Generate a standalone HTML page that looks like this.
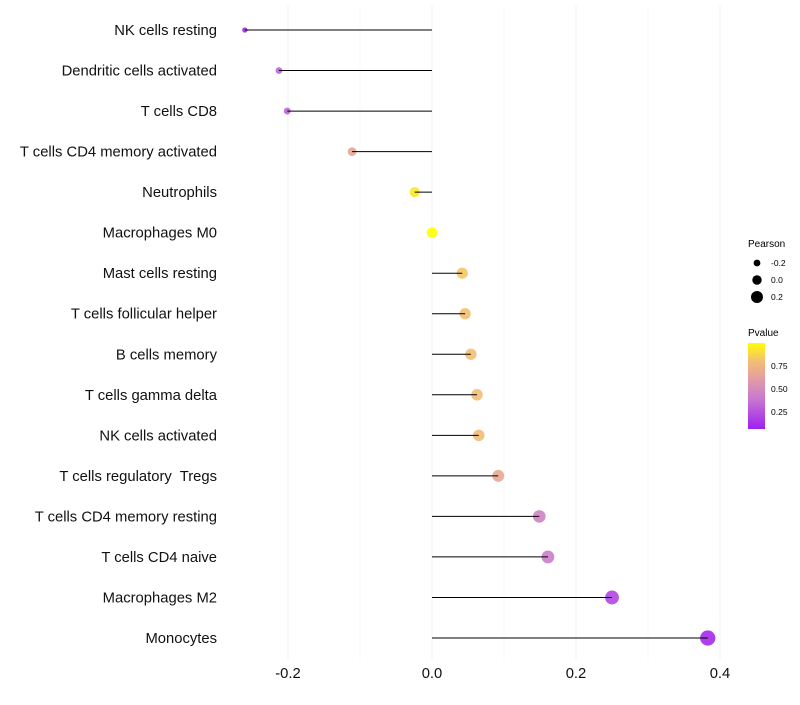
<!DOCTYPE html>
<html><head><meta charset="utf-8"><style>
body{margin:0;background:#fff;font-family:"Liberation Sans",sans-serif}
text{white-space:pre}
</style></head><body>
<svg id="chart" width="800" height="700" xmlns="http://www.w3.org/2000/svg" font-family="Liberation Sans, sans-serif">
<defs><linearGradient id="pg" x1="0" y1="1" x2="0" y2="0">
<stop offset="0" stop-color="#a020f0"/><stop offset="0.35" stop-color="#c878d0"/><stop offset="0.6" stop-color="#e4a0a0"/><stop offset="0.8" stop-color="#f4c070"/><stop offset="1" stop-color="#ffff00"/></linearGradient></defs>
<g id="grid"></g><g id="points"></g><g id="stems"></g><g id="ylabels"></g><g id="xlabels"></g>
<g font-size="10">
<text x="748" y="247" fill="#000">Pearson</text>
<circle cx="757" cy="263" r="3.4" fill="#000"/><text x="771" y="266" font-size="8.5">-0.2</text>
<circle cx="757" cy="280" r="4.7" fill="#000"/><text x="771" y="283" font-size="8.5">0.0</text>
<circle cx="757" cy="297" r="6" fill="#000"/><text x="771" y="300" font-size="8.5">0.2</text>
</g>
<g>
<text x="748" y="336" font-size="10">Pvalue</text>
<rect x="748" y="343" width="17" height="86" fill="url(#pg)"/>
<text x="771" y="369" font-size="8.5">0.75</text>
<text x="771" y="392" font-size="8.5">0.50</text>
<text x="771" y="415" font-size="8.5">0.25</text>
</g>
</svg>
<script>
const categories=["NK cells resting","Dendritic cells activated","T cells CD8","T cells CD4 memory activated","Neutrophils","Macrophages M0","Mast cells resting","T cells follicular helper","B cells memory","T cells gamma delta","NK cells activated","T cells regulatory  Tregs","T cells CD4 memory resting","T cells CD4 naive","Macrophages M2","Monocytes"];
const pearson=[-0.26,-0.2125,-0.201,-0.111,-0.024,0,0.042,0.046,0.054,0.0625,0.065,0.092,0.149,0.161,0.25,0.383];
const pvalue=[0.1,0.3,0.3,0.65,0.92,1.0,0.82,0.8,0.8,0.78,0.78,0.68,0.45,0.42,0.2,0.1];
const xTicks=[-0.2,0.0,0.2,0.4];
const xTickLabels=["-0.2","0.0","0.2","0.4"];
const NS="http://www.w3.org/2000/svg";
function X(v){return 432+v*720;}
function Y(i){return 30+i*(608/15);}
function R(v){return Math.sqrt(Math.max(2,28+80*v));}
const stops=[[0,[160,32,240]],[0.35,[200,120,208]],[0.6,[228,160,160]],[0.8,[244,192,112]],[1,[255,255,0]]];
function col(p){const t=Math.min(1,Math.max(0,(p-0.065)/(0.99-0.065)));for(let k=1;k<stops.length;k++){if(t<=stops[k][0]){const a=stops[k-1],b=stops[k];const f=(t-a[0])/(b[0]-a[0]);return "rgb("+a[1].map((c,j)=>Math.round(c+(b[1][j]-c)*f)).join(",")+")";}}return "rgb(255,255,0)";}
function mk(t,a){const e=document.createElementNS(NS,t);for(const k in a)e.setAttribute(k,a[k]);return e;}
const grid=document.getElementById("grid");
[-0.3,-0.2,-0.1,0,0.1,0.2,0.3,0.4].forEach(v=>{const x=X(v);if(x<228)return;
const l=mk("line",{x1:x,y1:5,x2:x,y2:660,stroke:"#f2f2f2","stroke-width":(Math.round(v*10)%2===0)?1:0.5});


grid.appendChild(l);});
const pts=document.getElementById("points"),stems=document.getElementById("stems"),yl=document.getElementById("ylabels"),xl=document.getElementById("xlabels");
categories.forEach((c,i)=>{const y=Y(i);
const p=mk("circle",{cx:X(pearson[i]),cy:y,r:R(pearson[i]),fill:col(pvalue[i]),"fill-opacity":0.9});


pts.appendChild(p);
const s=mk("line",{x1:X(0),y1:y,x2:X(pearson[i]),y2:y,stroke:"#000","stroke-width":1});


stems.appendChild(s);
const t=mk("text",{x:217,y:y+5,"text-anchor":"end","font-size":14.8,fill:"#111"});t.textContent=c;


yl.appendChild(t);});
xTicks.forEach((v,i)=>{const t=mk("text",{x:X(v),y:678,"text-anchor":"middle","font-size":14.8,fill:"#111"});t.textContent=xTickLabels[i];


xl.appendChild(t);});
</script>
</body></html>
